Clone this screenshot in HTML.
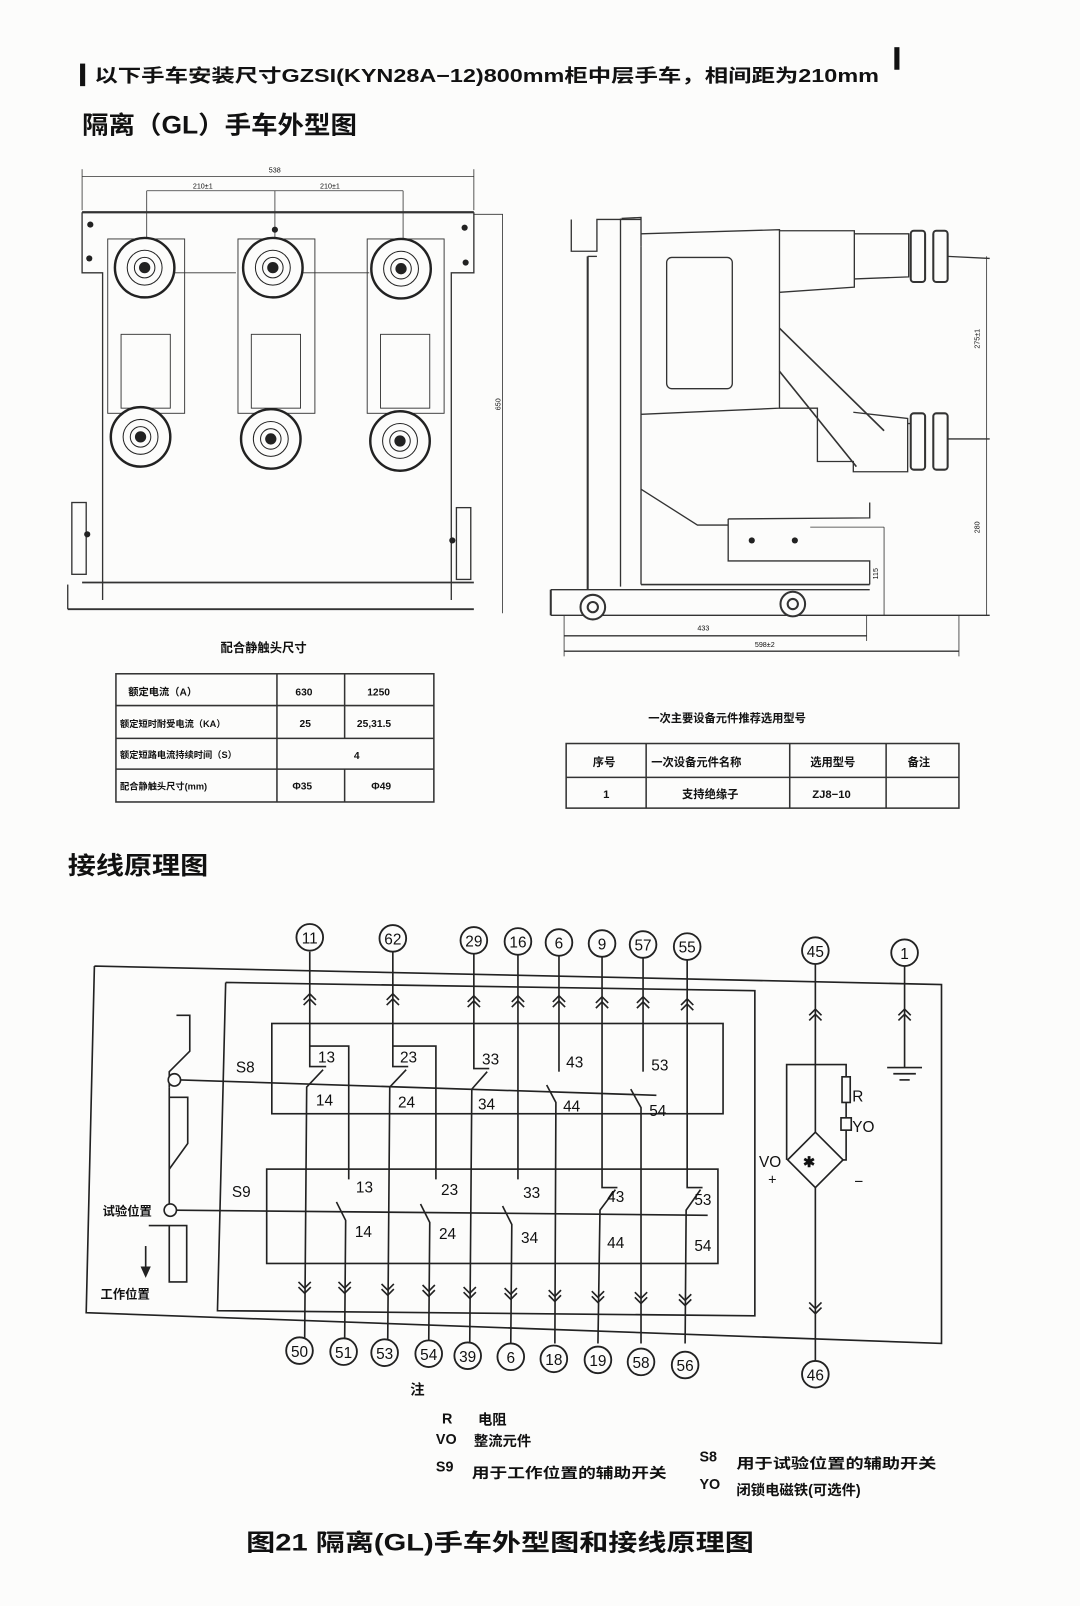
<!DOCTYPE html>
<html><head><meta charset="utf-8"><style>
html,body{margin:0;padding:0;background:#fff;}
svg{display:block;}
text{font-family:"Liberation Sans","Noto Sans CJK SC",sans-serif;fill:#111;}
</style></head><body>
<svg width="1080" height="1606" viewBox="0 0 1053 1566" xmlns="http://www.w3.org/2000/svg">
<rect width="1053" height="1566" fill="#fcfcfb"/>
<!-- header -->
<rect x="78" y="62" width="5" height="22" fill="#111"/>
<text x="92" y="80" font-size="18" font-weight="bold" textLength="765" lengthAdjust="spacingAndGlyphs" font-family="Liberation Serif,Noto Serif CJK SC,serif">以下手车安装尺寸GZSI(KYN28A−12)800mm柜中层手车，相间距为210mm</text>
<rect x="872" y="46" width="5" height="22" fill="#111"/>
<text x="80" y="130" font-size="24" font-weight="bold" textLength="268" lengthAdjust="spacingAndGlyphs">隔离（GL）手车外型图</text>

<g stroke="#333" fill="none" stroke-width="1.3">
<!-- front view -->
<line x1="80" y1="172" x2="462" y2="172" stroke-width="0.8"/>
<line x1="80" y1="165" x2="80" y2="205" stroke-width="0.8"/>
<line x1="462" y1="165" x2="462" y2="205" stroke-width="0.8"/>
<line x1="143" y1="186" x2="393" y2="186" stroke-width="0.8"/>
<line x1="143" y1="186" x2="143" y2="240" stroke-width="0.8"/>
<line x1="268" y1="186" x2="268" y2="240" stroke-width="0.8"/>
<line x1="393" y1="186" x2="393" y2="240" stroke-width="0.8"/>
<line x1="80" y1="207" x2="462" y2="207" stroke-width="2.2"/>
<polyline points="462,209 490,209 490,598" stroke-width="0.8"/>
<polyline points="80,207 80,266 100,266 100,585"/>
<polyline points="462,207 462,266 440,266 440,585"/>
<line x1="80" y1="568" x2="462" y2="568" stroke-width="1.8"/>
<line x1="66" y1="594" x2="462" y2="594" stroke-width="1.8"/>
<line x1="66" y1="570" x2="66" y2="594"/>
<rect x="70" y="490" width="14" height="70"/>
<rect x="445" y="495" width="14" height="70"/>
<line x1="165" y1="266" x2="230" y2="266" stroke-width="0.8"/>
<line x1="295" y1="266" x2="360" y2="266" stroke-width="0.8"/>
<rect x="105" y="233" width="75" height="170" stroke-width="0.9"/>
<rect x="232" y="233" width="75" height="170" stroke-width="0.9"/>
<rect x="358" y="233" width="75" height="170" stroke-width="0.9"/>
<rect x="118" y="326" width="48" height="72" fill="#fcfcfb" stroke-width="0.9"/>
<rect x="245" y="326" width="48" height="72" fill="#fcfcfb" stroke-width="0.9"/>
<rect x="371" y="326" width="48" height="72" fill="#fcfcfb" stroke-width="0.9"/>
</g>
<g fill="#fcfcfb" stroke="#222">
<circle cx="141" cy="261" r="29" stroke-width="2.4"/><circle cx="141" cy="261" r="17" stroke-width="1"/><circle cx="141" cy="261" r="10" stroke-width="1"/><circle cx="141" cy="261" r="5" fill="#222"/>
<circle cx="266" cy="261" r="29" stroke-width="2.4"/><circle cx="266" cy="261" r="17" stroke-width="1"/><circle cx="266" cy="261" r="10" stroke-width="1"/><circle cx="266" cy="261" r="5" fill="#222"/>
<circle cx="391" cy="262" r="29" stroke-width="2.4"/><circle cx="391" cy="262" r="17" stroke-width="1"/><circle cx="391" cy="262" r="10" stroke-width="1"/><circle cx="391" cy="262" r="5" fill="#222"/>
<circle cx="137" cy="426" r="29" stroke-width="2.4"/><circle cx="137" cy="426" r="17" stroke-width="1"/><circle cx="137" cy="426" r="10" stroke-width="1"/><circle cx="137" cy="426" r="5" fill="#222"/>
<circle cx="264" cy="428" r="29" stroke-width="2.4"/><circle cx="264" cy="428" r="17" stroke-width="1"/><circle cx="264" cy="428" r="10" stroke-width="1"/><circle cx="264" cy="428" r="5" fill="#222"/>
<circle cx="390" cy="430" r="29" stroke-width="2.4"/><circle cx="390" cy="430" r="17" stroke-width="1"/><circle cx="390" cy="430" r="10" stroke-width="1"/><circle cx="390" cy="430" r="5" fill="#222"/>
</g>
<g fill="#222"><circle cx="88" cy="219" r="3"/><circle cx="87" cy="252" r="3"/><circle cx="268" cy="224" r="3"/><circle cx="453" cy="222" r="3"/><circle cx="454" cy="256" r="3"/><circle cx="85" cy="521" r="3"/><circle cx="441" cy="527" r="3"/></g>
<text x="262" y="168" font-size="7">538</text><text x="188" y="184" font-size="7">210±1</text><text x="312" y="184" font-size="7">210±1</text>

<!-- side view -->
<g stroke="#333" fill="none" stroke-width="1.3">
<polyline points="557,214 557,245 582,245 582,214 625,214"/>
<polyline points="606,213 625,212 625,240"/>
<line x1="605" y1="213" x2="605" y2="572"/>
<line x1="625" y1="240" x2="625" y2="570"/>
<line x1="573" y1="250" x2="573" y2="575" stroke-width="2"/>
<line x1="573" y1="250" x2="582" y2="250"/>
<polyline points="625,228 760,224 760,398 625,404"/>
<rect x="650" y="251" width="64" height="128" rx="5"/>
<polyline points="760,225 833,225 833,280 760,285"/>
<polyline points="833,228 886,228 886,270 833,272"/>
<rect x="888" y="225" width="14" height="50" rx="3" stroke-width="2"/>
<rect x="910" y="225" width="14" height="50" rx="3" stroke-width="2"/>
<line x1="924" y1="250" x2="965" y2="252"/>
<polyline points="760,398 797,398 797,450 832,450 832,460 885,460 885,408 832,402"/>
<line x1="885" y1="413" x2="888" y2="413"/>
<rect x="888" y="403" width="14" height="55" rx="3" stroke-width="2"/>
<rect x="910" y="403" width="14" height="55" rx="3" stroke-width="2"/>
<line x1="924" y1="428" x2="965" y2="428"/>
<line x1="760" y1="320" x2="862" y2="420" stroke-width="1.6"/>
<line x1="760" y1="362" x2="835" y2="455" stroke-width="1.6"/>
<polyline points="625,477 680,512 710,512"/>
<polyline points="710,506 848,505 848,490"/>
<polyline points="710,506 710,547 848,547 848,570"/>
<line x1="625" y1="570" x2="848" y2="570" stroke-width="1.6"/>
<line x1="537" y1="575" x2="848" y2="575"/>
<line x1="537" y1="600" x2="965" y2="600"/>
<line x1="537" y1="575" x2="537" y2="600" stroke-width="2"/>
<line x1="550" y1="620" x2="845" y2="620"/>
<line x1="550" y1="635" x2="935" y2="635"/>
<line x1="550" y1="600" x2="550" y2="640" stroke-width="0.8"/>
<line x1="845" y1="600" x2="845" y2="625" stroke-width="0.8"/>
<line x1="935" y1="600" x2="935" y2="640" stroke-width="0.8"/>
<line x1="962" y1="250" x2="962" y2="600" stroke-width="0.8"/>
<line x1="862" y1="514" x2="862" y2="600" stroke-width="0.8"/>
<line x1="790" y1="514" x2="862" y2="514" stroke-width="0.8"/>
</g>
<g fill="#fcfcfb" stroke="#333" stroke-width="2"><circle cx="578" cy="592" r="12"/><circle cx="578" cy="592" r="5"/><circle cx="773" cy="589" r="12"/><circle cx="773" cy="589" r="5"/></g>
<g fill="#222"><circle cx="733" cy="527" r="3"/><circle cx="775" cy="527" r="3"/></g>
<text x="680" y="615" font-size="7">433</text><text x="736" y="631" font-size="7">598±2</text>
<text x="955" y="340" font-size="7" transform="rotate(-90 955 340)">275±1</text>
<text x="955" y="520" font-size="7" transform="rotate(-90 955 520)">280</text>
<text x="856" y="565" font-size="7" transform="rotate(-90 856 565)">115</text>
<text x="488" y="400" font-size="7" transform="rotate(-90 488 400)">650</text>

<!-- tables -->
<text x="215" y="636" font-size="12" font-weight="bold">配合静触头尺寸</text>
<g stroke="#333" stroke-width="1.5" fill="none">
<rect x="113" y="657" width="310" height="125"/>
<line x1="113" y1="688" x2="423" y2="688"/><line x1="113" y1="720" x2="423" y2="720"/><line x1="113" y1="750" x2="423" y2="750"/>
<line x1="270" y1="657" x2="270" y2="782"/><line x1="336" y1="657" x2="336" y2="720"/><line x1="336" y1="750" x2="336" y2="782"/>
</g>
<g font-size="10" font-weight="bold">
<text x="125" y="678">额定电流（A）</text><text x="288" y="678">630</text><text x="358" y="678">1250</text>
<text x="117" y="709" font-size="9">额定短时耐受电流（KA）</text><text x="292" y="709">25</text><text x="348" y="709">25,31.5</text>
<text x="117" y="739" font-size="9">额定短路电流持续时间（S）</text><text x="345" y="740">4</text>
<text x="117" y="770" font-size="9">配合静触头尺寸(mm)</text><text x="285" y="770">Φ35</text><text x="362" y="770">Φ49</text>
</g>
<text x="632" y="704" font-size="11" font-weight="bold">一次主要设备元件推荐选用型号</text>
<g stroke="#333" stroke-width="1.5" fill="none">
<rect x="552" y="725" width="383" height="63"/>
<line x1="552" y1="758" x2="935" y2="758"/>
<line x1="630" y1="725" x2="630" y2="788"/><line x1="770" y1="725" x2="770" y2="788"/><line x1="864" y1="725" x2="864" y2="788"/>
</g>
<g font-size="11" font-weight="bold">
<text x="578" y="747">序号</text><text x="635" y="747">一次设备元件名称</text><text x="790" y="747">选用型号</text><text x="885" y="747">备注</text>
<text x="588" y="778">1</text><text x="665" y="778">支持绝缘子</text><text x="792" y="778">ZJ8−10</text>
</g>

<text x="66" y="852" font-size="24" font-weight="bold" textLength="137" lengthAdjust="spacingAndGlyphs">接线原理图</text>

<!-- circuit -->
<g stroke="#222" fill="none" stroke-width="1.6">
<polyline points="92,942 918,960 918,1310 84,1280 92,942"/>
<polyline points="220,958 736,966 736,1283 212,1278 220,958"/>
<rect x="265" y="998" width="440" height="88"/>
<rect x="260" y="1140" width="440" height="92"/>
<polyline points="172,990 185,990 185,1025 165,1045 165,1060"/>
<polyline points="165,1060 165,1180"/>
<polyline points="165,1070 183,1070 183,1115 165,1140"/>
<polyline points="165,1195 165,1250 182,1250 182,1195 145,1195"/>
<line x1="142" y1="1215" x2="142" y2="1238"/>
<line x1="176" y1="1053" x2="640" y2="1068"/>
<line x1="171" y1="1180" x2="690" y2="1185"/>
</g>
<circle cx="170" cy="1053" r="6" fill="#fcfcfb" stroke="#222" stroke-width="1.6"/>
<circle cx="166" cy="1180" r="6" fill="#fcfcfb" stroke="#222" stroke-width="1.6"/>
<polygon points="137,1235 147,1235 142,1246" fill="#222"/>
<text x="230" y="1046" font-size="15">S8</text>
<text x="226" y="1167" font-size="15">S9</text>
<text x="100" y="1185" font-size="12" font-weight="bold">试验位置</text>
<text x="98" y="1266" font-size="12" font-weight="bold">工作位置</text>

<g stroke="#222" fill="none" stroke-width="1.6">
<polyline points="302,928 302,1040 318,1040"/><polyline points="302,1020 340,1020 340,1150"/>
<polyline points="315,1043 299,1060 297,1310"/>
<polyline points="383,928 383,1040 398,1040"/><polyline points="383,1020 425,1020 425,1150"/>
<polyline points="396,1043 380,1060 378,1310"/>
<polyline points="462,928 462,1042 477,1042"/>
<polyline points="475,1045 460,1062 458,1310"/>
<line x1="545" y1="928" x2="545" y2="1045"/><polyline points="533,1058 542,1075 541,1310"/>
<line x1="627" y1="928" x2="627" y2="1045"/><polyline points="615,1062 625,1080 625,1310"/>
<polyline points="328,1172 337,1190 336,1310"/>
<polyline points="410,1174 419,1192 418,1310"/>
<line x1="505" y1="928" x2="505" y2="1150"/><polyline points="490,1176 499,1194 498,1310"/>
<polyline points="587,928 587,1158 602,1158"/><polyline points="600,1160 585,1180 583,1310"/>
<polyline points="670,928 670,1158 685,1158"/><polyline points="683,1160 669,1180 668,1310"/>
<line x1="795" y1="940" x2="795" y2="1104"/>
<line x1="795" y1="1158" x2="795" y2="1328"/>
<polyline points="767,1131 767,1038 825,1038 825,1050"/>
<rect x="821" y="1050" width="8" height="25"/>
<line x1="825" y1="1075" x2="825" y2="1090"/>
<rect x="820" y="1090" width="10" height="12"/>
<polyline points="825,1102 825,1131 822,1131"/>
<polygon points="795,1104 822,1131 795,1158 768,1131"/>
<line x1="882" y1="942" x2="882" y2="1041"/>
<line x1="865" y1="1041" x2="899" y2="1041"/><line x1="871" y1="1047" x2="893" y2="1047"/><line x1="877" y1="1053" x2="887" y2="1053"/>
</g>
<text x="783" y="1138" font-size="14" font-weight="bold">✱</text>
<text x="831" y="1074" font-size="15">R</text><text x="831" y="1104" font-size="15">YO</text>
<text x="740" y="1138" font-size="15">VO</text><text x="749" y="1155" font-size="14">+</text><text x="833" y="1157" font-size="15">−</text>

<g stroke="#222" fill="none" stroke-width="1.6">
<path d="M296 975 L302 969 L308 975 M296 980 L302 974 L308 980"/>
<path d="M377 975 L383 969 L389 975 M377 980 L383 974 L389 980"/>
<path d="M456 977 L462 971 L468 977 M456 982 L462 976 L468 982"/>
<path d="M499 977 L505 971 L511 977 M499 982 L505 976 L511 982"/>
<path d="M539 977 L545 971 L551 977 M539 982 L545 976 L551 982"/>
<path d="M581 978 L587 972 L593 978 M581 983 L587 977 L593 983"/>
<path d="M621 978 L627 972 L633 978 M621 983 L627 977 L633 983"/>
<path d="M664 980 L670 974 L676 980 M664 985 L670 979 L676 985"/>
<path d="M789 990 L795 984 L801 990 M789 995 L795 989 L801 995"/>
<path d="M876 990 L882 984 L888 990 M876 995 L882 989 L888 995"/>
<path d="M291 1250 L297 1256 L303 1250 M291 1255 L297 1261 L303 1255"/>
<path d="M330 1250 L336 1256 L342 1250 M330 1255 L336 1261 L342 1255"/>
<path d="M372 1252 L378 1258 L384 1252 M372 1257 L378 1263 L384 1257"/>
<path d="M412 1253 L418 1259 L424 1253 M412 1258 L418 1264 L424 1258"/>
<path d="M452 1255 L458 1261 L464 1255 M452 1260 L458 1266 L464 1260"/>
<path d="M492 1256 L498 1262 L504 1256 M492 1261 L498 1267 L504 1261"/>
<path d="M535 1258 L541 1264 L547 1258 M535 1263 L541 1269 L547 1263"/>
<path d="M577 1259 L583 1265 L589 1259 M577 1264 L583 1270 L589 1264"/>
<path d="M619 1260 L625 1266 L631 1260 M619 1265 L625 1271 L631 1265"/>
<path d="M662 1262 L668 1268 L674 1262 M662 1267 L668 1273 L674 1267"/>
<path d="M789 1270 L795 1276 L801 1270 M789 1275 L795 1281 L801 1275"/>
</g>

<g font-size="15">
<text x="310" y="1036">13</text><text x="308" y="1078">14</text>
<text x="390" y="1036">23</text><text x="388" y="1080">24</text>
<text x="470" y="1038">33</text><text x="466" y="1082">34</text>
<text x="552" y="1041">43</text><text x="549" y="1084">44</text>
<text x="635" y="1044">53</text><text x="633" y="1088">54</text>
<text x="347" y="1163">13</text><text x="346" y="1206">14</text>
<text x="430" y="1165">23</text><text x="428" y="1208">24</text>
<text x="510" y="1168">33</text><text x="508" y="1212">34</text>
<text x="592" y="1172">43</text><text x="592" y="1217">44</text>
<text x="677" y="1175">53</text><text x="677" y="1220">54</text>
</g>

<g fill="#fcfcfb" stroke="#222" stroke-width="1.8">
<circle cx="302" cy="914" r="13"/><circle cx="383" cy="915" r="13"/><circle cx="462" cy="917" r="13"/><circle cx="505" cy="918" r="13"/><circle cx="545" cy="919" r="13"/><circle cx="587" cy="920" r="13"/><circle cx="627" cy="921" r="13"/><circle cx="670" cy="923" r="13"/>
<circle cx="795" cy="927" r="13"/><circle cx="882" cy="929" r="13"/>
<circle cx="292" cy="1317" r="13"/><circle cx="335" cy="1318" r="13"/><circle cx="375" cy="1319" r="13"/><circle cx="418" cy="1320" r="13"/><circle cx="456" cy="1322" r="13"/><circle cx="498" cy="1323" r="13"/><circle cx="540" cy="1325" r="13"/><circle cx="583" cy="1326" r="13"/><circle cx="625" cy="1328" r="13"/><circle cx="668" cy="1331" r="13"/>
<circle cx="795" cy="1340" r="13"/>
</g>
<g font-size="15" text-anchor="middle">
<text x="302" y="920">11</text><text x="383" y="921">62</text><text x="462" y="923">29</text><text x="505" y="924">16</text><text x="545" y="925">6</text><text x="587" y="926">9</text><text x="627" y="927">57</text><text x="670" y="929">55</text>
<text x="795" y="933">45</text><text x="882" y="935">1</text>
<text x="292" y="1323">50</text><text x="335" y="1324">51</text><text x="375" y="1325">53</text><text x="418" y="1326">54</text><text x="456" y="1328">39</text><text x="498" y="1329">6</text><text x="540" y="1331">18</text><text x="583" y="1332">19</text><text x="625" y="1334">58</text><text x="668" y="1337">56</text>
<text x="795" y="1346">46</text>
</g>

<g font-size="14" font-weight="bold">
<text x="400" y="1360">注</text>
<text x="431" y="1388">R</text><text x="466" y="1389">电阻</text>
<text x="425" y="1408">VO</text><text x="462" y="1410">整流元件</text>
<text x="425" y="1435">S9</text><text x="460" y="1441" textLength="190" lengthAdjust="spacingAndGlyphs">用于工作位置的辅助开关</text>
<text x="682" y="1425">S8</text><text x="718" y="1432" textLength="195" lengthAdjust="spacingAndGlyphs">用于试验位置的辅助开关</text>
<text x="682" y="1452">YO</text><text x="718" y="1458">闭锁电磁铁(可选件)</text>
</g>
<text x="240" y="1512" font-size="23" font-weight="bold" textLength="495" lengthAdjust="spacingAndGlyphs">图21  隔离(GL)手车外型图和接线原理图</text>
</svg>
</body></html>
